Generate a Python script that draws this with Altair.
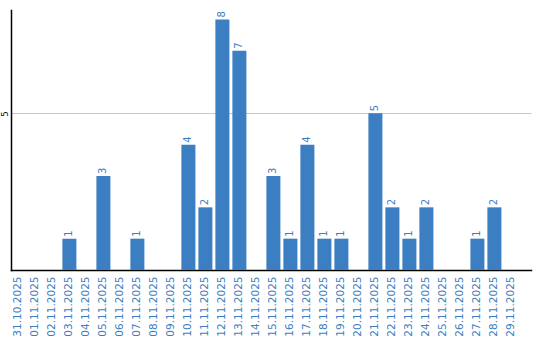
import altair as alt
import pandas as pd

dates = ["31.10.2025", "01.11.2025", "02.11.2025", "03.11.2025", "04.11.2025",
         "05.11.2025", "06.11.2025", "07.11.2025", "08.11.2025", "09.11.2025",
         "10.11.2025", "11.11.2025", "12.11.2025", "13.11.2025", "14.11.2025",
         "15.11.2025", "16.11.2025", "17.11.2025", "18.11.2025", "19.11.2025",
         "20.11.2025", "21.11.2025", "22.11.2025", "23.11.2025", "24.11.2025",
         "25.11.2025", "26.11.2025", "27.11.2025", "28.11.2025", "29.11.2025"]
counts = [0, 0, 0, 1, 0, 3, 0, 1, 0, 0,
          4, 2, 8, 7, 0, 3, 1, 4, 1, 1,
          0, 5, 2, 1, 2, 0, 0, 1, 2, 0]

df = pd.DataFrame({"date": dates, "count": counts})
df["label"] = df["count"].apply(lambda v: str(v) if v > 0 else "")

blue = "#3b7ec1"

x = alt.X("date:N", sort=dates, title=None,
          scale=alt.Scale(paddingInner=0.176, paddingOuter=0.382, align=0.03),
          axis=alt.Axis(labelAngle=-90, labelAlign="right", labelBaseline="middle",
                        labelColor=blue, labelFontSize=10.5, labelPadding=6,
                        ticks=False, domainColor="black", domainWidth=1.5,
                        labelFont="DejaVu Sans"))
y = alt.Y("count:Q", title=None,
          scale=alt.Scale(domain=[0, 8.3], nice=False),
          axis=alt.Axis(values=[5], grid=True, gridColor="#c8c8c8", ticks=False,
                        labelAngle=-90, labelAlign="center", labelBaseline="bottom",
                        labelFontSize=8, labelColor="black", labelPadding=2,
                        domainColor="black", domainWidth=1.5, labelFont="DejaVu Sans"))

bars = alt.Chart(df).mark_bar(color=blue).encode(x=x, y=y)
text = alt.Chart(df).mark_text(angle=270, align="left", baseline="middle", dx=2,
                               color=blue, fontSize=10, font="DejaVu Sans").encode(
    x=alt.X("date:N", sort=dates), y="count:Q", text="label:N")

chart = (bars + text).properties(
    width=520, height=260,
    autosize=alt.AutoSizeParams(type="none"),
    padding={"left": 11, "top": 10, "right": 9, "bottom": 70},
).configure_view(stroke=None).configure_axis(domainCap="square")

chart.save("out.html", embed_options={"renderer": "svg", "actions": False})
